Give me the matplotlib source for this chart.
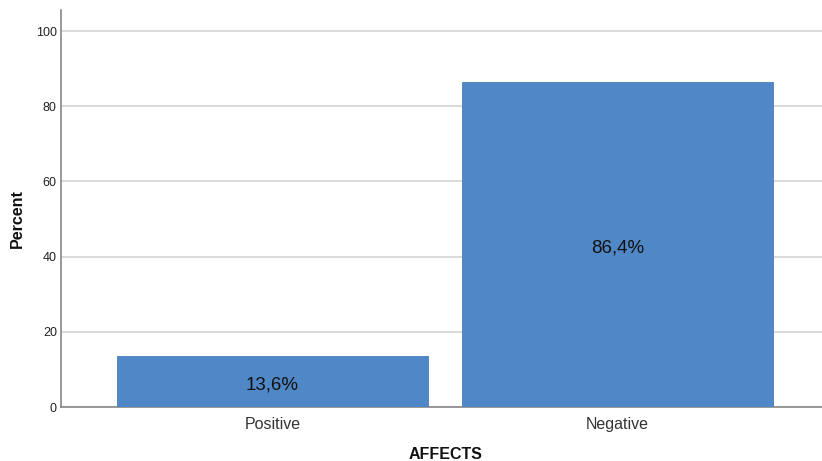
import matplotlib
matplotlib.use("Agg")
import matplotlib.pyplot as plt

plt.rcParams['font.family'] = ['Liberation Sans', 'DejaVu Sans']

categories = ["Positive", "Negative"]
percents = [13.6, 86.4]
yticks = [0, 20, 40, 60, 80, 100]

bar_color = "#5087c6"

fig = plt.figure(figsize=(8.22, 4.61), dpi=100)
ax = fig.add_axes([61 / 822, 1 - 407 / 461, (829 - 61) / 822, (407 - 10) / 461])

x = list(range(len(categories)))
bars = ax.bar(x, percents, width=0.9, color=bar_color, edgecolor="#4a7db8", linewidth=0.6, zorder=3)

# percentage labels sit just below the middle of each bar
for xi, p in zip(x, percents):
    ax.annotate(f"{p:.1f}%".replace(".", ","), (xi, p / 2), xytext=(0, -2.5),
                textcoords="offset points", ha="center", va="center",
                fontsize=13.5, color="#111111", zorder=4)

ax.set_xlim(-0.613, 1.613)
ax.set_ylim(0, 105.6)
ax.set_yticks(yticks)
ax.set_yticklabels([str(t) for t in yticks], fontsize=9, color="#222222")
ax.set_xticks(x)
ax.set_xticklabels(categories, fontsize=11.5, color="#333333")
ax.tick_params(axis="x", length=0, pad=7)
ax.tick_params(axis="y", length=0, pad=3)

ax.grid(axis="y", color="#d4d4d4", linewidth=1.2, zorder=0)
for side in ["top", "right"]:
    ax.spines[side].set_visible(False)
ax.spines["left"].set_color("#888888")
ax.spines["bottom"].set_color("#888888")
ax.spines["left"].set_linewidth(1.2)
ax.spines["bottom"].set_linewidth(1.2)

fig.text(446 / 822, 1 - 454 / 461, "AFFECTS", ha="center", va="center",
         fontsize=11.5, fontweight="bold", color="#111111")
fig.text(17 / 822, 1 - 219 / 461, "Percent", ha="center", va="center",
         rotation=90, fontsize=11.5, fontweight="bold", color="#111111")

fig.savefig("out.png", dpi=100)
